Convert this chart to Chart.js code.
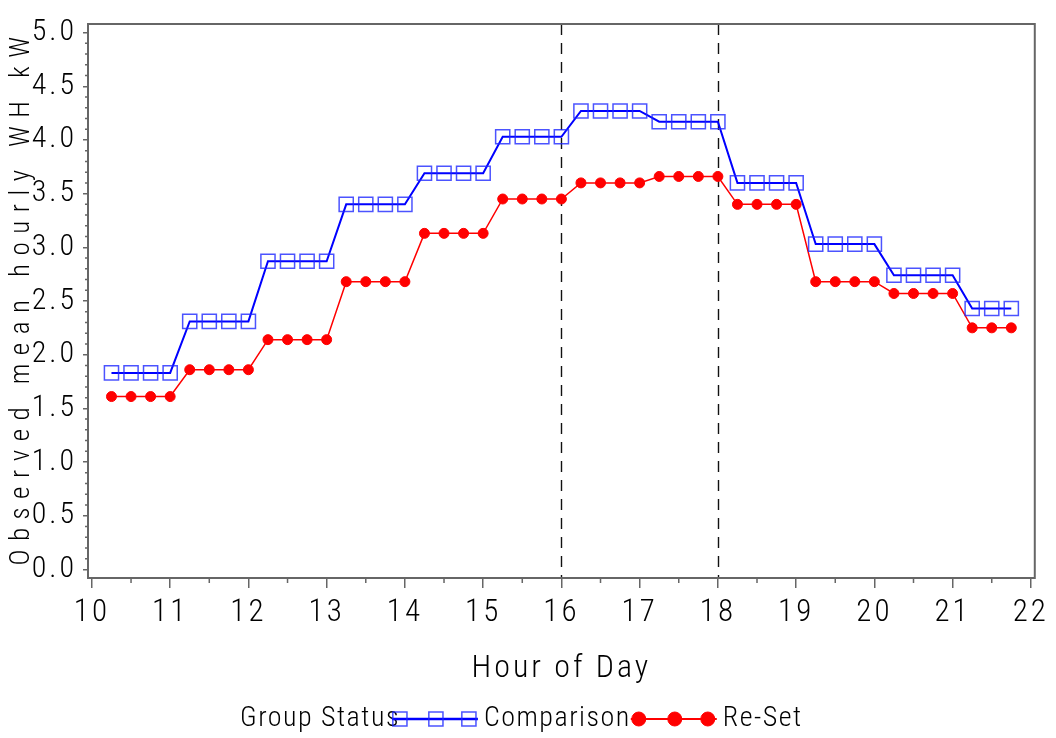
<!DOCTYPE html>
<html>
<head>
<meta charset="utf-8">
<script src="https://cdn.jsdelivr.net/npm/chart.js@4.4.1/dist/chart.umd.min.js"></script>
<style>
  html, body { margin: 0; padding: 0; background: #fff; }
  #wrap { width: 1056px; height: 738px; }
</style>
</head>
<body>
<div id="wrap"><canvas id="chart" width="1056" height="738"></canvas></div>
<script>
// quarter-hour points
const hours = [10.25, 10.5, 10.75, 11.0, 11.25, 11.5, 11.75, 12.0, 12.25, 12.5, 12.75, 13.0,
               13.25, 13.5, 13.75, 14.0, 14.25, 14.5, 14.75, 15.0, 15.25, 15.5, 15.75, 16.0,
               16.25, 16.5, 16.75, 17.0, 17.25, 17.5, 17.75, 18.0, 18.25, 18.5, 18.75, 19.0,
               19.25, 19.5, 19.75, 20.0, 20.25, 20.5, 20.75, 21.0, 21.25, 21.5, 21.75];

const comparison = [1.83, 1.83, 1.83, 1.83, 2.31, 2.31, 2.31, 2.31, 2.87, 2.87, 2.87, 2.87,
                    3.40, 3.40, 3.40, 3.40, 3.69, 3.69, 3.69, 3.69, 4.03, 4.03, 4.03, 4.03,
                    4.27, 4.27, 4.27, 4.27, 4.17, 4.17, 4.17, 4.17, 3.60, 3.60, 3.60, 3.60,
                    3.03, 3.03, 3.03, 3.03, 2.74, 2.74, 2.74, 2.74, 2.43, 2.43, 2.43];

const reset = [1.61, 1.61, 1.61, 1.61, 1.86, 1.86, 1.86, 1.86, 2.14, 2.14, 2.14, 2.14,
               2.68, 2.68, 2.68, 2.68, 3.13, 3.13, 3.13, 3.13, 3.45, 3.45, 3.45, 3.45,
               3.60, 3.60, 3.60, 3.60, 3.66, 3.66, 3.66, 3.66, 3.40, 3.40, 3.40, 3.40,
               2.68, 2.68, 2.68, 2.68, 2.57, 2.57, 2.57, 2.57, 2.25, 2.25, 2.25];

const xTicks = [10, 11, 12, 13, 14, 15, 16, 17, 18, 19, 20, 21, 22];
const yTicks = [0, 0.5, 1, 1.5, 2, 2.5, 3, 3.5, 4, 4.5, 5];
const refLines = [16, 18];

const yTitle = 'Observed mean hourly WH kW';
const legendTitle = 'Group Status';
const seriesNames = ['Comparison', 'Re-Set'];

// pick a narrow font if one is around
function pickFont(cands) {
    const c = document.createElement('canvas').getContext('2d');
    const txt = 'Observed mean 0123456789';
    c.font = '30px monospace';
    const base = c.measureText(txt).width;
    for (const f of cands) {
        c.font = '30px "' + f + '", monospace';
        if (Math.abs(c.measureText(txt).width - base) > 0.5) return f;
    }
    return 'sans-serif';
}
const fam = pickFont(['Liberation Sans Narrow', 'Roboto Condensed', 'DejaVu Sans Condensed', 'Lato']);
const LS = '3px';

Chart.defaults.font.family = fam;
Chart.defaults.font.weight = '300';
Chart.defaults.color = '#000';

const overlay = {
    id: 'overlay',
    beforeUpdate(chart) { chart.ctx.letterSpacing = LS; },
    beforeDraw(chart) { chart.ctx.letterSpacing = LS; },
    beforeDatasetsDraw(chart) {
        const {ctx, chartArea: a, scales: {x}} = chart;
        ctx.save();
        ctx.strokeStyle = '#111';
        ctx.lineWidth = 1.4;
        ctx.setLineDash([11, 8]);
        refLines.forEach(v => {
            const px = Math.round(x.getPixelForValue(v)) + 0.5;
            ctx.beginPath();
            ctx.moveTo(px, a.top);
            ctx.lineTo(px, a.bottom);
            ctx.stroke();
        });
        ctx.restore();
    },
    afterDraw(chart) {
        const {ctx, chartArea: a, scales: {x, y}} = chart;
        ctx.save();
        // frame
        ctx.strokeStyle = '#666';
        ctx.lineWidth = 2;
        ctx.strokeRect(a.left, a.top, a.right - a.left, a.bottom - a.top);
        // minor ticks
        ctx.lineWidth = 1.5;
        ctx.beginPath();
        for (let i = 0; i <= 50; i++) {
            if (i % 5 === 0) continue;
            const py = y.getPixelForValue(i / 10);
            ctx.moveTo(a.left, py);
            ctx.lineTo(a.left - 3, py);
        }
        for (let h = 10; h < 22; h++) {
            const px = x.getPixelForValue(h + 0.5);
            ctx.moveTo(px, a.bottom);
            ctx.lineTo(px, a.bottom + 5);
        }
        ctx.stroke();

        // y axis title, widely spaced like the original
        ctx.save();
        ctx.font = '300 27px "' + fam + '"';
        ctx.letterSpacing = '8.5px';
        ctx.fillStyle = '#000';
        ctx.textAlign = 'center';
        ctx.textBaseline = 'middle';
        ctx.translate(22, (a.top + a.bottom) / 2);
        ctx.rotate(-Math.PI / 2);
        ctx.fillText(yTitle, 4, 0);
        ctx.restore();

        // legend, drawn inline like the original
        const ly = 719;
        const sample = 86;
        ctx.font = '300 28px "' + fam + '"';
        ctx.letterSpacing = '1.5px';
        ctx.fillStyle = '#000';
        ctx.textBaseline = 'middle';
        ctx.textAlign = 'left';
        let cx = 240;
        ctx.fillText(legendTitle, cx, ly);
        cx += ctx.measureText(legendTitle).width - 8;
        chart.data.datasets.forEach((ds, i) => {
            const round = ds.pointStyle === 'circle';
            ctx.strokeStyle = ds.borderColor;
            ctx.lineWidth = ds.borderWidth + 0.5;
            ctx.beginPath();
            ctx.moveTo(cx, ly);
            ctx.lineTo(cx + sample, ly);
            ctx.stroke();
            [8, 44, 77].forEach(off => {
                ctx.fillStyle = ds.pointBackgroundColor;
                ctx.strokeStyle = ds.pointBorderColor;
                ctx.lineWidth = ds.pointBorderWidth;
                Chart.helpers.drawPoint(ctx, {
                    pointStyle: ds.pointStyle,
                    radius: round ? 7 : ds.pointRadius,
                    borderWidth: ds.pointBorderWidth
                }, cx + off, ly);
            });
            cx += sample + 6;
            ctx.fillStyle = '#000';
            ctx.fillText(seriesNames[i], cx, ly);
            cx += ctx.measureText(seriesNames[i]).width;
        });
        ctx.restore();
    }
};

new Chart(document.getElementById('chart'), {
    type: 'line',
    data: {
        datasets: [{
            label: seriesNames[0],
            data: hours.map((h, i) => ({x: h, y: comparison[i]})),
            borderColor: '#0000ff',
            borderWidth: 2,
            pointStyle: 'rect',
            pointRadius: 10,
            pointBorderWidth: 1.5,
            pointBorderColor: 'rgba(30,40,255,0.8)',
            pointBackgroundColor: 'rgba(0,0,0,0)',
            tension: 0
        }, {
            label: seriesNames[1],
            data: hours.map((h, i) => ({x: h, y: reset[i]})),
            borderColor: '#ff0000',
            borderWidth: 1.5,
            pointStyle: 'circle',
            pointRadius: 5,
            pointBorderWidth: 1,
            pointBorderColor: '#ff0000',
            pointBackgroundColor: '#ff0000',
            tension: 0
        }]
    },
    options: {
        responsive: false,
        animation: false,
        layout: {padding: {top: 15, right: 13, bottom: 50, left: 0}},
        plugins: {
            legend: {display: false},
            tooltip: {enabled: false}
        },
        scales: {
            x: {
                type: 'linear',
                min: 9.95,
                max: 22.05,
                afterBuildTicks: s => { s.ticks = xTicks.map(v => ({value: v})); },
                afterFit: s => { s.height = 110; },
                ticks: {font: {size: 31}, padding: 7, maxRotation: 0, autoSkip: false,
                        callback: v => String(v)},
                grid: {drawOnChartArea: false, tickLength: 10, color: '#666', lineWidth: 1.5},
                border: {display: false},
                title: {display: true, text: 'Hour of Day', font: {size: 32}, padding: {top: 5, bottom: 0}}
            },
            y: {
                min: -0.08,
                max: 5.08,
                afterBuildTicks: s => { s.ticks = yTicks.map(v => ({value: v})); },
                afterFit: s => { s.width = 88; },
                ticks: {font: {size: 30}, padding: 6, callback: v => v.toFixed(1)},
                grid: {drawOnChartArea: false, tickLength: 5, color: '#666', lineWidth: 1.5},
                border: {display: false},
                title: {display: false}
            }
        }
    },
    plugins: [overlay]
});
</script>
</body>
</html>
